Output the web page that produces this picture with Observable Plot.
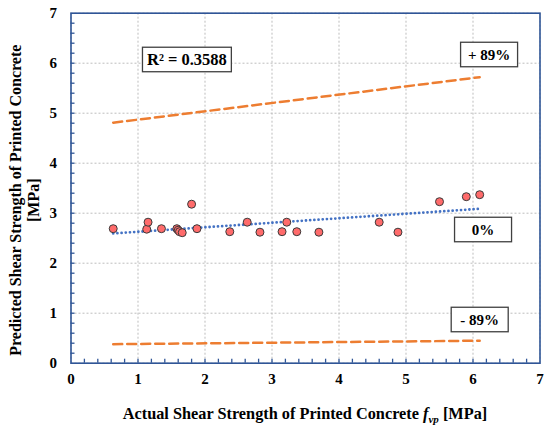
<!DOCTYPE html>
<html><head><meta charset="utf-8">
<script src="https://cdn.jsdelivr.net/npm/d3@7"></script>
<script src="https://cdn.jsdelivr.net/npm/@observablehq/plot@0.6"></script>
<style>
body{margin:0;background:#fff}
#chart svg, #chart svg text { font-family: "Liberation Serif", "Times New Roman", serif !important; font-weight: bold; }
</style>
</head><body><div id="chart"></div>
<script>
// Data
const actual    = [0.63, 1.13, 1.15, 1.35, 1.58, 1.60, 1.62, 1.66, 1.80, 1.88, 2.37, 2.63, 2.82, 3.15, 3.22, 3.37, 3.70, 4.60, 4.88, 5.50, 5.90, 6.10];
const predicted = [2.69, 2.68, 2.82, 2.69, 2.69, 2.66, 2.63, 2.61, 3.18, 2.69, 2.63, 2.82, 2.62, 2.63, 2.82, 2.63, 2.62, 2.82, 2.62, 3.23, 3.33, 3.37];
const boundX = [0.63, 6.10];
const upperY = [4.81, 5.72];   // + 89%
const lowerY = [0.38, 0.45];   // - 89%
const majorTicks = [0, 1, 2, 3, 4, 5, 6, 7];
const minorTicks = [0.2,0.4,0.6,0.8,1,1.2,1.4,1.6,1.8,2,2.2,2.4,2.6,2.8,3,3.2,3.4,3.6,3.8,4,4.2,4.4,4.6,4.8,5,5.2,5.4,5.6,5.8,6,6.2,6.4,6.6,6.8];
const annoText = ["R² = 0.3588", "+ 89%", "0%", "- 89%"];
const annoX = [1.73, 6.24, 6.15, 6.10];
const annoY = [6.07, 6.17, 2.67, 0.87];
const yTitle = "Predicted Shear Strength of Printed Concrete\n[MPa]";
const xTitle = ["Actual Shear Strength of Printed Concrete ", "f", "vp", " [MPa]"];

const W = 550, H = 432;
const mL = 70.5, mR = 10.5, mT = 12.7, mB = 69.3;
const frameColor = "#2f5597";

const points = actual.map((x, i) => ({x, y: predicted[i]}));
const upper = boundX.map((x, i) => ({x, y: upperY[i]}));
const lower = boundX.map((x, i) => ({x, y: lowerY[i]}));
const annos = annoText.map((t, i) => ({t, x: annoX[i], y: annoY[i]}));

const plot = Plot.plot({
  width: W, height: H,
  marginLeft: mL, marginRight: mR, marginTop: mT, marginBottom: mB,
  x: {domain: [0, 7]},
  y: {domain: [0, 7]},
  style: {fontSize: "14px", color: "#000", background: "#fff"},
  marks: [
    Plot.gridX(majorTicks, {stroke: "#bdbdbd", strokeOpacity: 1, strokeWidth: 1, strokeDasharray: "2,2"}),
    Plot.gridY(majorTicks, {stroke: "#bdbdbd", strokeOpacity: 1, strokeWidth: 1, strokeDasharray: "2,2"}),
    Plot.axisX(minorTicks, {tickSize: -4, stroke: frameColor, strokeWidth: 1.3, tickFormat: () => "", label: null}),
    Plot.axisY(minorTicks, {tickSize: -4, stroke: frameColor, strokeWidth: 1.3, tickFormat: () => "", label: null}),
    Plot.axisX(majorTicks, {tickSize: 0, tickPadding: 10, fontSize: 15, tickFormat: d3.format("d"), label: null}),
    Plot.axisY(majorTicks, {tickSize: 0, tickPadding: 14, fontSize: 15, tickFormat: d3.format("d"), label: null}),
    Plot.line(upper, {x: "x", y: "y", stroke: "#ed7d31", strokeWidth: 2.5, strokeDasharray: "9,5"}),
    Plot.line(lower, {x: "x", y: "y", stroke: "#ed7d31", strokeWidth: 2.5, strokeDasharray: "9,5"}),
    Plot.linearRegressionY(points, {x: "x", y: "y", ci: 0, stroke: "#4472c4", strokeWidth: 2.8, strokeDasharray: "0,4.2", strokeLinecap: "round"}),
    Plot.dot(points, {x: "x", y: "y", r: 4, fill: "#ff6b6b", stroke: "#3a3a3a", strokeWidth: 1}),
    Plot.frame({stroke: frameColor, strokeWidth: 1.6}),
    Plot.text(annos, {x: "x", y: "y", text: "t", fontSize: d => d.t.startsWith("R") ? 16.5 : 15, textAnchor: "middle", lineAnchor: "middle", fill: "#000", ariaDescription: "annotations"}),
    Plot.text([yTitle], {frameAnchor: "left", rotate: -90, dx: -47, dy: 12, fontSize: 16, lineHeight: 1.17, textAnchor: "middle", lineAnchor: "middle", fill: "#000"})
  ]
});

document.getElementById("chart").appendChild(plot);

const svg = d3.select(plot);
// Boxes round the annotations
const annoG = svg.select('g[aria-description="annotations"]');
const boxG = svg.insert("g", 'g[aria-description="annotations"]');
annoG.selectAll("text").each(function() {
  const b = this.getBBox();
  const ctm = this.getCTM();
  const cx = b.x + b.width / 2 + (ctm ? ctm.e : 0);
  const cy = b.y + b.height / 2 + (ctm ? ctm.f : 0);
  const w = Math.max(b.width + 9, 57), h = 24.5;
  boxG.append("rect").attr("x", cx - w / 2).attr("y", cy - h / 2).attr("width", w).attr("height", h)
    .attr("fill", "#fff").attr("stroke", "#404040").attr("stroke-width", 1.3);
});

// X title with italic f and subscript vp
const xs = plot.scale("x");
const xt = svg.append("text")
  .attr("x", xs.apply(3.5)).attr("y", 419)
  .attr("text-anchor", "middle").attr("font-size", 16.3).attr("fill", "#000");
xt.append("tspan").text(xTitle[0]);
xt.append("tspan").attr("font-style", "italic").text(xTitle[1]);
xt.append("tspan").attr("font-style", "italic").attr("font-size", 11).attr("dy", 3.5).text(xTitle[2]);
xt.append("tspan").attr("dy", -3.5).text(xTitle[3]);
</script>
</body></html>
